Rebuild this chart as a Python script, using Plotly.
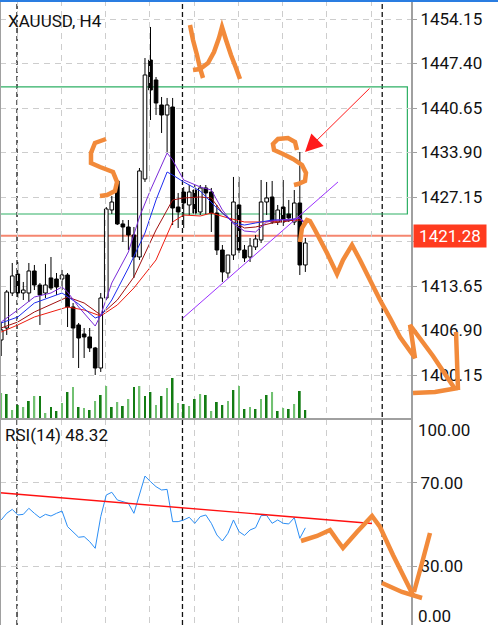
import plotly.graph_objects as go

W, H = 498, 625

# ---------------- data ----------------
opens = [1405.46, 1407.28, 1412.59, 1415.47, 1412.59, 1412.59, 1415.93, 1413.80, 1412.59, 1414.87,
         1414.71, 1414.71, 1415.32, 1410.47, 1407.74, 1406.37, 1405.92, 1404.25, 1401.21, 1411.83,
         1425.18, 1429.58, 1423.06, 1422.60, 1421.39, 1418.05, 1429.88, 1447.93, 1444.90, 1441.11,
         1439.59, 1440.80, 1425.63, 1427.91, 1425.94, 1428.21, 1424.88, 1428.52, 1427.91, 1424.72,
         1419.11, 1415.62, 1418.35, 1425.94, 1419.11, 1418.05, 1419.57, 1420.63, 1426.39, 1427.15,
         1423.36, 1425.63, 1424.57, 1423.36, 1426.24, 1416.84]
highs = [1408.19, 1413.04, 1417.14, 1417.29, 1414.26, 1417.14, 1416.84, 1414.11, 1416.99, 1418.05,
         1415.62, 1416.08, 1415.62, 1411.07, 1408.04, 1407.28, 1407.28, 1404.40, 1412.59, 1425.63,
         1427.30, 1429.88, 1423.66, 1423.66, 1422.60, 1431.55, 1448.23, 1452.94, 1445.35, 1442.32,
         1442.17, 1442.17, 1427.76, 1428.67, 1428.97, 1428.97, 1428.97, 1428.97, 1428.52, 1425.94,
         1419.87, 1418.35, 1430.19, 1430.19, 1419.87, 1420.93, 1421.39, 1429.73, 1429.43, 1429.58,
         1425.94, 1429.73, 1426.70, 1428.21, 1433.98, 1420.93]
lows = [1403.03, 1406.22, 1412.13, 1411.83, 1411.53, 1411.22, 1413.04, 1407.74, 1411.83, 1413.04,
        1412.29, 1413.04, 1407.43, 1402.73, 1401.21, 1402.73, 1403.64, 1400.15, 1400.61, 1411.53,
        1424.57, 1422.90, 1420.33, 1419.11, 1414.87, 1417.60, 1429.43, 1438.83, 1439.59, 1436.86,
        1433.98, 1422.90, 1422.45, 1422.45, 1424.42, 1424.42, 1424.42, 1424.57, 1421.84, 1418.35,
        1414.26, 1414.87, 1417.60, 1418.66, 1417.29, 1417.29, 1419.11, 1420.17, 1424.42, 1423.06,
        1422.90, 1422.75, 1423.36, 1422.90, 1415.32, 1415.78]
closes = [1406.98, 1412.74, 1415.17, 1412.59, 1413.04, 1415.93, 1413.80, 1412.29, 1413.80, 1413.35,
          1413.50, 1415.32, 1410.47, 1407.28, 1405.76, 1405.92, 1404.25, 1401.21, 1411.83, 1425.33,
          1426.39, 1423.06, 1422.60, 1421.39, 1418.05, 1431.10, 1445.66, 1443.38, 1441.41, 1439.59,
          1441.11, 1425.48, 1424.88, 1426.24, 1427.91, 1424.72, 1428.52, 1427.76, 1424.72, 1419.11,
          1415.78, 1418.35, 1426.39, 1419.11, 1417.90, 1419.72, 1420.78, 1426.39, 1427.00, 1423.36,
          1425.18, 1423.36, 1423.97, 1426.24, 1416.84, 1420.17]
volumes = [26, 25, 9, 14, 12, 18, 23, 23, 6, 12, 8, 16, 27, 32, 12, 11, 9, 18, 24, 33,
           12, 17, 13, 20, 32, 33, 23, 27, 14, 23, 31, 41, 16, 15, 13, 20, 25, 24, 8, 17,
           14, 18, 29, 33, 10, 12, 10, 20, 24, 27, 8, 11, 10, 15, 28, 9]
volume_light = [1, 0, 1, 0, 1, 0, 1, 0, 1, 0, 0, 1, 0, 1, 0, 1, 0, 1, 0, 1,
                0, 1, 0, 1, 0, 1, 0, 0, 1, 0, 1, 0, 1, 0, 1, 0, 1, 0, 1, 0,
                0, 1, 0, 1, 0, 1, 0, 1, 0, 1, 0, 1, 0, 1, 0, 0]
rsi = [52.1, 55.3, 57.2, 54.5, 54.8, 57.7, 55.3, 53.2, 54.8, 54.0, 55.3, 56.4, 48.9, 46.5, 43.8,
       44.1, 41.7, 38.5, 53.7, 64.1, 65.4, 61.7, 60.9, 60.1, 55.3, 64.9, 73.2, 70.5, 68.1, 66.5,
       66.8, 51.3, 51.3, 52.1, 53.4, 50.5, 53.7, 54.5, 50.5, 44.9, 42.0, 45.7, 52.1, 46.5, 44.7,
       47.3, 48.4, 54.2, 54.3, 50.5, 52.1, 50.5, 50.2, 53.2, 43.3, 48.32]

ma1_idx = [0, 3, 6, 9, 11, 12, 14, 16, 17, 18, 20, 23, 25, 27, 30, 31, 33, 36, 38, 40, 42, 44, 46, 48, 50, 53, 54, 55]
ma1 = [1408.19, 1410.01, 1411.98, 1412.59, 1413.50, 1412.74, 1410.47, 1408.50, 1407.58, 1409.25, 1414.11,
       1418.81, 1424.12, 1428.21, 1433.83, 1432.76, 1429.73, 1428.67, 1428.21, 1425.18, 1423.06, 1421.99,
       1421.84, 1423.36, 1423.66, 1423.81, 1423.97, 1423.06]
ma2_idx = [0, 3, 6, 11, 14, 17, 18, 20, 23, 26, 28, 30, 31, 33, 36, 39, 42, 44, 46, 49, 52, 54, 55]
ma2 = [1408.04, 1408.95, 1411.07, 1412.59, 1410.92, 1408.80, 1409.10, 1411.53, 1416.38, 1421.69, 1426.70,
       1430.94, 1430.49, 1429.43, 1428.06, 1425.48, 1423.21, 1422.90, 1423.21, 1423.66, 1423.66, 1423.97, 1422.90]
ma3_idx = [0, 3, 6, 12, 15, 18, 21, 24, 28, 31, 33, 36, 38, 40, 42, 44, 46, 49, 52, 54, 55]
ma3 = [1407.28, 1408.19, 1409.71, 1411.98, 1411.07, 1409.25, 1411.53, 1415.02, 1422.15, 1426.70, 1427.00,
       1427.15, 1427.00, 1424.72, 1423.36, 1422.45, 1422.60, 1423.21, 1423.51, 1423.97, 1423.21]
ma4_idx = [0, 3, 6, 12, 15, 18, 21, 24, 28, 31, 33, 36, 38, 41, 44, 47, 50, 54, 55]
ma4 = [1406.67, 1407.74, 1408.95, 1410.47, 1410.01, 1409.10, 1410.77, 1413.35, 1417.60, 1423.36, 1424.42,
       1424.27, 1424.72, 1423.97, 1423.36, 1423.36, 1423.51, 1423.66, 1423.36]

price_ticks = [1454.15, 1447.40, 1440.65, 1433.90, 1427.15, 1420.40, 1413.65, 1406.90, 1400.15]
rsi_ticks = [70, 30]
last_price = 1421.28
rsi_last = 48.32

# drawing objects (data coordinates)
zone_low, zone_high, zone_end = 1424.57, 1443.84, 73.45
trend_pts = [(32.88, 1408.80), (60.9, 1429.43)]
rsi_trend_pts = [(-0.22, 65.2), (67.05, 50.4)]
arrow_tip, arrow_tail = (54.94, 1433.98), (66.87, 1443.84)
separators = [2.86, 32.78, 68.9]
grid_x = [2.9 + 8 * k for k in range(9)]

# ---------------- layout geometry ----------------
PLOT_R = 411
PANE = 419
x_of_px = lambda px: (px - 1.2) / 5.53
price_per_px = 6.75 / 44.5
price_top = 1454.15 + 19 * price_per_px
price_bot = 1454.15 - (PANE - 19) * price_per_px
rsi_pp = 40 / 83.3
rsi_top = 70 + (482.7 - PANE) * rsi_pp
rsi_bot = 30 - (H - 566) * rsi_pp
split = 1 - PANE / H

FONT = "Roboto"
ORANGE = "#f28a3a"
GRID = "#cdcdcd"
AXIS = "#a0a0a0"

n = len(opens)
idx = list(range(n))

fig = go.Figure()

# volume (separate axis over bottom of price pane)
fig.add_trace(go.Bar(x=idx, y=volumes, yaxis="y3", width=0.32,
                     marker=dict(color=["#72c172" if v else "#137c13" for v in volume_light], line=dict(width=0)),
                     hoverinfo="skip", showlegend=False))

# candle bodies
bases = [min(o, c) for o, c in zip(opens, closes)]
heights = [max(abs(c - o), 0.12) for o, c in zip(opens, closes)]
fig.add_trace(go.Bar(x=idx, y=heights, base=bases, width=0.66,
                     marker=dict(color=["#ffffff" if c >= o else "#000000" for o, c in zip(opens, closes)],
                                 line=dict(color="#000000", width=1)),
                     showlegend=False, hoverinfo="skip"))

# wicks
wx, wy = [], []
for i, (o, h, l, c) in enumerate(zip(opens, highs, lows, closes)):
    top, bot = max(o, c), min(o, c)
    wx += [i, i, None, i, i, None]
    wy += [h, top, None, bot, l, None]
fig.add_trace(go.Scatter(x=wx, y=wy, mode="lines", line=dict(color="#000000", width=1),
                         showlegend=False, hoverinfo="skip"))

# moving averages
for xs, ys, col in [(ma4_idx, ma4, "#ee1c10"), (ma3_idx, ma3, "#a01010"),
                    (ma2_idx, ma2, "#1f2cf0"), (ma1_idx, ma1, "#7a2bd8")]:
    fig.add_trace(go.Scatter(x=xs, y=ys, mode="lines", line=dict(color=col, width=1),
                             showlegend=False, hoverinfo="skip"))

# RSI
fig.add_trace(go.Scatter(x=idx, y=rsi, yaxis="y2", mode="lines", line=dict(color="#2b8ef5", width=1),
                         showlegend=False, hoverinfo="skip"))

shapes = []
# period separators
for s in separators:
    shapes.append(dict(type="line", xref="x", yref="paper", x0=s, x1=s, y0=0, y1=1,
                       line=dict(color="#111111", width=1.3, dash="5px,3px"), layer="below"))
# zone rectangle
shapes.append(dict(type="rect", xref="x", yref="y", x0=-5, x1=zone_end, y0=zone_low, y1=zone_high,
                   line=dict(color="#2eb064", width=1.2), fillcolor="rgba(0,0,0,0)", layer="below"))
# current price line
shapes.append(dict(type="line", xref="x", yref="y", x0=x_of_px(0), x1=x_of_px(PLOT_R),
                   y0=last_price, y1=last_price, line=dict(color="#f5866f", width=2), layer="below"))
# trend lines
shapes.append(dict(type="line", xref="x", yref="y", x0=trend_pts[0][0], y0=trend_pts[0][1],
                   x1=trend_pts[1][0], y1=trend_pts[1][1], line=dict(color="#9b30ff", width=1), layer="above"))
shapes.append(dict(type="line", xref="x", yref="y2", x0=rsi_trend_pts[0][0], y0=rsi_trend_pts[0][1],
                   x1=rsi_trend_pts[1][0], y1=rsi_trend_pts[1][1], line=dict(color="#ff1010", width=1.4),
                   layer="above"))
# frame lines
shapes.append(dict(type="line", xref="paper", yref="paper", x0=0, x1=0, y0=0, y1=1,
                   line=dict(color=AXIS, width=2), layer="above"))
shapes.append(dict(type="line", xref="paper", yref="paper", x0=0, x1=1, y0=split, y1=split,
                   line=dict(color=AXIS, width=2), layer="above"))
shapes.append(dict(type="rect", xref="paper", yref="paper", x0=0, x1=W / PLOT_R, y0=1 - 2 / H, y1=1,
                   fillcolor="#2a7de1", line=dict(width=0), layer="above"))

# hand-drawn doodles (screen pixels)
def stroke(points, width=4.5):
    path = "M " + " L ".join(f"{x / PLOT_R:.4f},{1 - y / H:.4f}" for x, y in points)
    return dict(type="path", xref="paper", yref="paper", path=path,
                line=dict(color=ORANGE, width=width), layer="above")

doodles = [
    [(106, 139), (95, 143), (91, 153), (91, 163), (100, 167), (113, 172), (117, 182), (115, 191), (107, 195), (100, 196)],
    [(190, 25), (193, 40), (197, 55), (200, 68), (203, 78)],
    [(193, 70), (200, 69), (208, 63), (214, 52), (219, 38), (222, 27), (226, 40), (231, 55), (236, 68), (240, 79)],
    [(297, 150), (295, 142), (288, 138), (278, 139), (273, 144), (274, 150), (283, 154), (293, 159), (302, 165),
     (306, 173), (305, 181), (298, 184), (294, 185)],
    [(300, 242), (302, 228), (307, 220), (310, 221), (315, 230), (327, 253), (337, 274), (343, 260), (352, 245),
     (360, 260), (370, 280), (380, 300), (390, 318), (400, 337), (415, 358), (410, 325), (433, 356), (455, 389)],
    [(413, 393), (435, 392), (458, 388)],
    [(456, 332), (457, 360), (458, 390)],
    [(301, 541), (317, 536), (330, 530), (337, 540), (343, 548), (357, 532), (372, 516), (380, 527), (393, 555), (413, 595)],
    [(382, 583), (402, 592), (422, 598)],
    [(430, 533), (422, 563), (414, 592)],
]
for d in doodles:
    shapes.append(stroke(d))

annotations = [
    dict(text="XAUUSD, H4", x=6 / PLOT_R, y=1 - 21 / H, xref="paper", yref="paper", xanchor="left",
         yanchor="middle", showarrow=False, font=dict(family=FONT, size=17, color="#111111")),
    dict(text=f"RSI(14) {rsi_last:.2f}", x=3 / PLOT_R, y=1 - 434.5 / H, xref="paper", yref="paper",
         xanchor="left", yanchor="middle", showarrow=False, font=dict(family=FONT, size=17, color="#111111")),
    dict(text="100.00", x=416 / PLOT_R, y=1 - 430 / H, xref="paper", yref="paper", xanchor="left",
         yanchor="middle", showarrow=False, font=dict(family=FONT, size=17, color="#111111")),
    dict(text="0.00", x=416 / PLOT_R, y=1 - 616 / H, xref="paper", yref="paper", xanchor="left",
         yanchor="middle", showarrow=False, font=dict(family=FONT, size=17, color="#111111")),
    dict(text=f"{last_price:.2f}", x=413 / PLOT_R, y=last_price, xref="paper", yref="y", xanchor="left",
         yanchor="middle", showarrow=False, bgcolor="#ff3b1f", width=70, height=20, align="center",
         font=dict(family=FONT, size=17, color="#ffffff")),
    dict(text="", x=arrow_tip[0], y=arrow_tip[1], xref="x", yref="y", ax=arrow_tail[0], ay=arrow_tail[1],
         axref="x", ayref="y", showarrow=True, arrowhead=2, arrowsize=3.5, arrowwidth=1, arrowcolor="#ff1a1a"),
]

fig.update_layout(
    width=W, height=H, margin=dict(l=0, r=W - PLOT_R, t=0, b=0),
    paper_bgcolor="#ffffff", plot_bgcolor="rgba(0,0,0,0)", showlegend=False, barmode="overlay",
    xaxis=dict(range=[x_of_px(0), x_of_px(PLOT_R)], tickvals=grid_x, showticklabels=False, ticks="",
               showgrid=True, gridcolor=GRID, griddash="6px,5px", gridwidth=1, zeroline=False, showline=False),
    yaxis=dict(domain=[split, 1], range=[price_bot, price_top], side="right", tickvals=price_ticks,
               ticktext=[f"{t:.2f}" for t in price_ticks], showgrid=True, gridcolor=GRID, griddash="6px,5px",
               ticks="outside", ticklen=4, tickcolor=AXIS, showline=True, linecolor=AXIS, linewidth=2,
               zeroline=False, tickfont=dict(family=FONT, size=17, color="#111111")),
    yaxis2=dict(domain=[0, split], range=[rsi_bot, rsi_top], side="right", anchor="x", tickvals=rsi_ticks,
                ticktext=[f"{t:.2f}" for t in rsi_ticks], showgrid=True, gridcolor=GRID, griddash="6px,5px",
                ticks="outside", ticklen=4, tickcolor=AXIS, showline=True, linecolor=AXIS, linewidth=2,
                zeroline=False, tickfont=dict(family=FONT, size=17, color="#111111")),
    yaxis3=dict(domain=[split, 1], range=[0, PANE], anchor="x", showgrid=False, showline=False,
                showticklabels=False, ticks="", zeroline=False),
    shapes=shapes, annotations=annotations,
)

fig.write_html("out.html")
